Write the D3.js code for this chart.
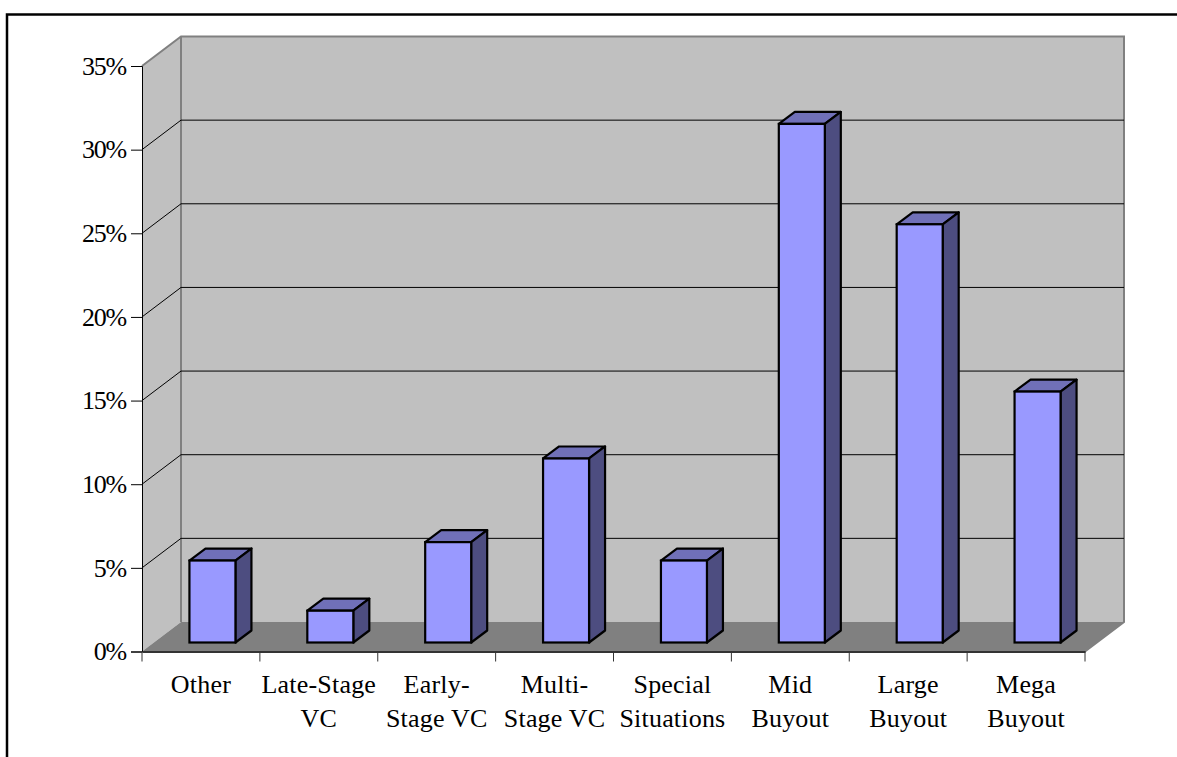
<!DOCTYPE html>
<html>
<head>
<meta charset="utf-8">
<script src="https://cdn.jsdelivr.net/npm/d3@7"></script>
<style>
html, body { margin:0; padding:0; background:#fff; }
svg { display:block; }
text { font-family:"Liberation Serif", serif; fill:#000; }
</style>
</head>
<body>
<svg id="chart" width="1177" height="757"></svg>
<script>
//the data
var categories = ['Other','Late-Stage VC','Early-Stage VC','Multi-Stage VC','Special Situations','Mid Buyout','Large Buyout','Mega Buyout'];
var categoryLines = [['Other'],['Late-Stage','VC'],['Early-','Stage VC'],['Multi-','Stage VC'],['Special','Situations'],['Mid','Buyout'],['Large','Buyout'],['Mega','Buyout']];
var values = [4.9,1.9,6,11,4.9,31,25,15];
var yTicks = [0,5,10,15,20,25,30,35];

var svg = d3.select('#chart');

//scales are for the front plane of the box
var x = d3.scaleBand().domain(categories).range([142,1085]);
var y = d3.scaleLinear().domain([0,35]).range([651.5,66]);

var depthX = 39, depthY = -29.5; //wall offset
var barDepthX = 16, barDepthY = -12;
var barInsetY = -9; //bars stand a bit behind the front edge
var barW = 46;

function pts(list){ return list.map(function(p){ return p.join(','); }).join(' '); }

//outer frame: left and top only, the rest is cut off
svg.append('path')
  .attr('d','M7,757V14.5H1177')
  .attr('fill','none').attr('stroke','#000').attr('stroke-width',2.5);

var box = svg.append('g');
var x0 = x.range()[0], x1 = x.range()[1], y0 = y(0), yTop = y(35);

//back wall
box.append('rect')
  .attr('x',x0+depthX).attr('y',yTop+depthY)
  .attr('width',x1-x0).attr('height',y0-yTop)
  .attr('fill','#c0c0c0');
//side wall
box.append('polygon')
  .attr('points',pts([[x0,y0],[x0,yTop],[x0+depthX,yTop+depthY],[x0+depthX,y0+depthY]]))
  .attr('fill','#c0c0c0');
//floor
box.append('polygon')
  .attr('points',pts([[x0,y0],[x1,y0],[x1+depthX,y0+depthY],[x0+depthX,y0+depthY]]))
  .attr('fill','#808080');

//grey wall edges
box.append('polyline')
  .attr('points',pts([[x0,yTop],[x0+depthX,yTop+depthY],[x1+depthX,yTop+depthY],[x1+depthX,y0+depthY],[x1,y0]]))
  .attr('fill','none').attr('stroke','#808080').attr('stroke-width',2);
box.append('line')
  .attr('x1',x0+depthX).attr('x2',x0+depthX)
  .attr('y1',yTop+depthY).attr('y2',y0+depthY)
  .attr('stroke','#808080').attr('stroke-width',2);

//gridlines
yTicks.filter(function(d){ return d>0 && d<35; }).forEach(function(d){
  box.append('polyline')
    .attr('points',pts([[x0,y(d)],[x0+depthX,y(d)+depthY],[x1+depthX,y(d)+depthY]]))
    .attr('fill','none').attr('stroke','#000').attr('stroke-width',1);
});

//bars
var bars = svg.selectAll('g.bar').data(values).enter().append('g').attr('class','bar');
function bx(d,i){ return x(categories[i]) + (x.bandwidth()-barW)/2 + depthX/2 - 8; }
function base(){ return y(0)+barInsetY; }
function top_(d){ return y(d)+barInsetY; }

bars.append('polygon') //top
  .attr('points',function(d,i){
    var l=bx(d,i), t=top_(d);
    return pts([[l,t],[l+barW,t],[l+barW+barDepthX,t+barDepthY],[l+barDepthX,t+barDepthY]]);
  })
  .attr('fill','#7070b8').attr('stroke','#000').attr('stroke-width',2.2).attr('stroke-linejoin','round');
bars.append('polygon') //side
  .attr('points',function(d,i){
    var l=bx(d,i)+barW, t=top_(d), b=base();
    return pts([[l,t],[l+barDepthX,t+barDepthY],[l+barDepthX,b+barDepthY],[l,b]]);
  })
  .attr('fill','#4d4d80').attr('stroke','#000').attr('stroke-width',2.2).attr('stroke-linejoin','round');
bars.append('rect') //front
  .attr('x',function(d,i){ return bx(d,i); })
  .attr('y',function(d){ return top_(d); })
  .attr('width',barW)
  .attr('height',function(d){ return base()-top_(d); })
  .attr('fill','#9999ff').attr('stroke','#000').attr('stroke-width',2.2);

//y axis
var yAxis = d3.axisLeft(y).tickValues(yTicks).tickSize(11).tickPadding(5)
  .tickFormat(function(d){ return d+'%'; });
var yG = svg.append('g').attr('transform','translate('+x0+',0)').call(yAxis);
yG.select('.domain').attr('stroke','#000').attr('stroke-width',1);
yG.selectAll('line').attr('stroke','#000');
yG.selectAll('text')
  .style('font-family','"Liberation Serif", serif').style('font-size','26px').style('letter-spacing','-1.2px')
  .attr('fill','#000').attr('dy','0.32em');

//x axis
var xAxis = d3.axisBottom(x).tickSize(0).tickFormat('');
var xG = svg.append('g').attr('transform','translate(0,'+y0+')').call(xAxis);
xG.select('.domain').attr('stroke','#333').attr('stroke-width',2);
xG.selectAll('.tick').remove();
var edges = categories.map(function(c){ return x(c); }).concat([x1]);
xG.selectAll('line.edge').data(edges).enter().append('line').attr('class','edge')
  .attr('x1',function(d){ return d; }).attr('x2',function(d){ return d; })
  .attr('y1',0).attr('y2',10).attr('stroke','#333').attr('stroke-width',1);

//category labels
var lab = svg.append('g').selectAll('text').data(categoryLines).enter().append('text')
  .attr('text-anchor','middle')
  .style('font-size','26px');
lab.selectAll('tspan').data(function(d,i){ return d.map(function(s,j){ return {s:s,j:j,i:i}; }); })
  .enter().append('tspan')
  .attr('x',function(d){ return x(categories[d.i])+x.bandwidth()/2; })
  .attr('y',function(d){ return 692.5+d.j*34; })
  .style('letter-spacing','0.2px')
  .text(function(d){ return d.s; });
</script>
</body>
</html>
